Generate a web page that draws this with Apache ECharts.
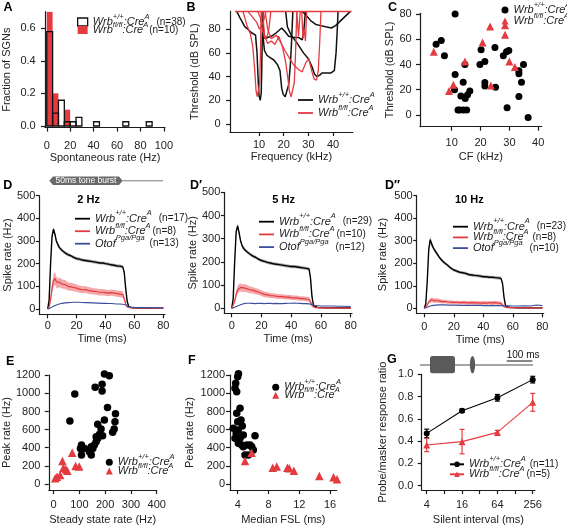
<!DOCTYPE html>
<html><head><meta charset="utf-8">
<script src="https://cdn.jsdelivr.net/npm/echarts@6/dist/echarts.min.js"></script>
<style>html,body{margin:0;padding:0;background:#fff}#c{width:567px;height:527px}</style>
</head><body><div id="c"></div>
<script>
// ---------------- DATA ----------------
// A: histogram of spontaneous rate (bin width 5 Hz)
const aBinW = 5;
const aWtBins = [0,5,10,15,20,25,40,65,85];
const aWtFrac = [0.579,0.079,0.158,0.026,0.026,0.053,0.026,0.026,0.026];
const aKoBins = [0,5,15];
const aKoFrac = [0.7,0.2,0.1];

// B: tuning curves [frequency kHz, threshold dB SPL]
const bWt1 = [[1,95],[2.2,90],[4.3,82],[5.5,80],[7,77],[8.6,75],[9.2,60],[9.6,40],[10,24],[10.5,20],[10.9,26],[11.1,45],[11.3,70],[11.6,95]];
const bWt2 = [[11.4,95],[11.8,80],[12.4,72],[13.5,73],[15,74],[17,77],[19.2,81],[20.5,78],[22,74],[24,73],[26,73],[27.5,71],[28.2,80],[28.8,95]];
const bWt3 = [[11.2,95],[11.6,75],[12.2,62],[13.2,58],[14.5,56],[16,54],[17.5,50],[18.5,45],[19.2,30],[19.8,25],[20.6,23],[21.3,24],[22,33],[22.7,50],[23.2,70],[23.7,95]];
const bWt4 = [[20.8,95],[21.5,82],[23,75],[25.5,68],[28,60],[30,55],[31.5,48],[32.5,42],[33.5,40],[34.5,41],[35.5,43],[37,43],[39,43],[40.5,45],[41.2,60],[41.7,80],[42,95]];
const bWt5 = [[27.5,95],[29,92],[31,87],[33,84],[35,83],[37,82],[39.3,81],[41,83],[43,87],[45,91],[47,95]];
const bKo1 = [[3.5,95],[5,84],[6.5,76],[7.5,65],[8.3,45],[8.8,28],[9.3,23],[9.9,24],[10.3,35],[10.6,60],[10.9,95]];
const bKo2 = [[5.5,95],[7.5,90],[9,86],[10.2,80],[11,83],[12,88],[12.8,95]];
const bKo3 = [[9.5,95],[10.5,90],[11.5,78],[12.5,72],[13.3,74],[14,80],[14.8,95]];
const bKo4 = [[11.5,95],[12.2,75],[13.5,68],[15,70],[16.5,67],[18,74],[19.5,65],[20.8,52],[21.6,40],[22.3,28],[23,23],[23.8,24],[24.3,35],[24.8,60],[25.3,95]];
const bKo5 = [[12.5,95],[13.5,80],[15,72],[17,75],[18.5,70],[20.5,62],[22.5,55],[24,50],[26,46],[27.5,44],[29,52],[30.2,55],[31.3,45],[32.3,38],[33.3,37],[34,45],[34.6,70],[35.1,95]];
const bKo6 = [[25.3,95],[26,74],[26.7,95]];
const bKo7 = [[27.3,95],[27.8,72],[28.3,80],[28.8,70],[29.3,95]];
const bKoTop = [[0.3,95],[47.5,95]];

// C: threshold vs CF
const cWtCF  = [11.2,4.6,6.4,7.5,11.2,11,14,14.6,12.2,12.8,14,15.2,13.2,14.7,15.5,16.3,19.8,20.2,21.5,21.5,21.5,25,25.2,27.9,29,29.8,29.2,33.3,33.3,34.2,34.9,33.3,36.5];
const cWtThr = [80,56,59,47,32,20,26,40,4,4,4,4,15,13,16,19,40,51.7,42.4,25.7,23,53.5,22,47,50,51,5.8,32.6,35,26,40,14.6,-2];
const cKoCF  = [3.8,9.1,10.6,14.6,20.7,23.3,28.5,28.5,30,31.9,23.6];
const cKoThr = [50,19,24,42.4,57.5,70,71,63.6,42.4,38,23.3];

// D: PSTHs, shared time base (ms)
const T = [0,1,2,3,4,5,6,7,8,10,12,14,16,18,20,22,24,26,28,30,32,34,36,38,40,42,44,46,48,50,52,53,54,55,56,58,60,64,68,72,76,80];
// 2 Hz
const d2Wt    = [0,40,200,320,352,330,300,285,272, 258,248,240,235,228,222,220,216,214,212,210,208,206,203,203,200,198,195,193,190,189,186, 160,90,35,12,6,5, 4,4,3,3,3];
const d2WtSem = [0,3,8,12,12,10,9,8,8, 7,7,7,7,7,7,7,7,7,7,7,7,7,7,7,7,7,7,7,7,7,7, 7,6,4,3,2,2, 2,2,2,2,2];
const d2Ko    = [0,10,40,90,125,135,120,112,118, 110,108,100,98,95,92,88,85,86,82,80,78,76,74,74,72,70,72,70,68,66,64, 45,22,10,6,5,5, 4,4,3,3,3];
const d2KoSem = [0,5,12,22,28,28,25,22,22, 20,20,18,18,17,16,16,15,15,15,15,14,14,14,14,14,14,14,14,14,14,14, 10,6,4,3,2,2, 2,2,2,2,2];
const d2Ot    = [0,2,5,8,12,15,18,20,22, 25,27,28,29,30,30,30,29,28,28,27,27,26,26,25,25,24,24,23,22,22,21, 20,18,14,10,8,7, 6,6,5,5,5];
// 5 Hz
const d5Wt    = [0,40,200,330,355,325,290,270,258, 245,235,226,220,212,206,202,198,195,192,190,188,186,184,182,180,180,178,176,174,172,170, 130,50,12,5,3,3, 2,2,2,2,2];
const d5WtSem = [0,3,8,12,12,10,9,8,8, 7,7,7,7,7,7,7,7,7,7,7,7,7,7,7,7,7,7,7,7,7,7, 7,5,3,2,2,2, 2,2,2,2,2];
const d5Ko    = [0,8,30,60,80,88,90,86,88, 85,80,78,74,70,65,60,58,55,54,52,50,50,48,48,46,45,45,42,42,40,38, 28,12,5,3,3,2, 2,2,1,1,1];
const d5KoSem = [0,4,8,14,17,18,18,17,17, 16,15,14,14,13,12,12,12,11,11,11,10,10,10,10,10,10,10,10,10,10,10, 8,5,3,2,2,2, 2,2,2,2,2];
const d5Ot    = [0,2,4,7,10,12,15,18,20, 22,22,21,20,22,21,20,22,21,20,21,20,20,21,22,22,23,22,21,20,20,19, 18,16,14,12,11,10, 10,10,9,9,8];
// 10 Hz
const d10Wt    = [0,20,120,260,305,285,270,258,248, 228,212,200,190,178,170,165,160,158,155,150,148,146,145,143,140,140,138,138,136,135,133, 110,50,12,4,3,3, 2,2,2,2,2];
const d10WtSem = [0,3,8,14,15,12,10,9,8, 7,7,7,7,7,7,7,7,7,7,7,7,7,7,7,7,7,7,7,7,7,7, 7,5,3,2,2,2, 2,2,2,2,2];
const d10Ko    = [0,5,15,28,35,38,35,34,36, 33,30,30,28,27,26,26,25,26,25,24,25,24,24,23,24,23,24,24,25,23,22, 15,8,4,3,3,3, 2,2,2,2,2];
const d10KoSem = [0,2,5,8,10,10,10,10,10, 9,9,8,8,8,8,8,8,8,8,8,8,8,8,8,8,8,8,8,8,8,8, 6,4,2,2,2,2, 2,2,2,2,2];
const d10Ot    = [0,2,5,8,10,12,13,14,14, 15,15,15,14,14,14,14,13,13,13,13,13,13,13,13,12,12,12,13,12,12,12, 11,10,10,10,11,10, 10,11,10,15,12];

// E: peak rate vs steady-state rate
const eWtSS   = [82,63,197,216,161,188,188,209,240,238,235,229,197,171,184,178,190,171,165,158,152,139,146,108,104,120,108,165,146];
const eWtPeak = [992,695,1213,1194,1066,1099,1025,844,775,687,606,570,705,658,606,548,533,503,467,430,393,356,320,430,393,393,320,521,411];
const eKoSS   = [72,34,85,99,47,38,25,6,13,53];
const eKoPeak = [346,254,199,192,162,180,99,63,81,147];

// F: peak rate vs median first-spike latency
const fWtFSL  = [4.0,3.74,3.65,3.87,4.3,3.87,4.0,4.43,3.43,4.08,3.65,4.3,4.08,4.52,4.73,5.17,6.25,5.6,6.03,4.95,5.38,5.82,4.73,4.1,3.8,4.6];
const fWtPeak = [1183,1110,1055,1018,835,780,687,706,614,595,504,504,449,430,411,430,533,430,375,320,320,411,540,1216,560,640];
const fKoFSL  = [4.95,5.8,8.55,9.07,10.45,10.7,11.3,14.6,16.45,16.9];
const fKoPeak = [254,346,180,192,180,173,147,88,74,52];

// G: forward masking recovery
const gInterval = [4,16,64,256];
const gWtMean = [0.47,0.674,0.79,0.953];
const gWtErr  = [0.038,0.015,0.03,0.03];
const gKoMean = [0.366,0.396,0.479,0.749];
const gKoErr  = [0.06,0.11,0.018,0.08];

// tick values
const aXTicks = [0,20,40,60,80,100], aYTicks = [0,0.2,0.4,0.6];
const bXTicks = [10,20,30,40], bYTicks = [0,20,40,60,80];
const cXTicks = [10,20,30,40], cYTicks = [0,20,40,60,80];
const dXTicks = [0,20,40,60,80], dYTicks = [0,100,200,300,400,500];
const eXTicks = [0,100,200,300,400], efYTicks = [0,200,400,600,800,1000,1200];
const fXTicks = [4,8,12,16];
const gXTicks = [4,8,16,32,64,128,256], gXLabels = [4,16,64,256], gYTicks = [0,0.2,0.4,0.6,0.8,1.0];

// ---------------- STYLE ----------------
const FONT = 'Liberation Sans, Arial, Helvetica, sans-serif';
const RED = '#e33b40';
const RED_BAND = 'rgba(236,96,100,0.55)';
const GRAY_BAND = 'rgba(120,120,120,0.6)';
const BLUE = '#3a4f9e';
const INK = '#1c1c1c';

const RICH = {
  i: {fontFamily: FONT, fontStyle: 'italic', fontSize: 11, color: INK, lineHeight: 19, verticalAlign: 'middle'},
  s: {fontFamily: FONT, fontStyle: 'italic', fontSize: 7.5, color: INK, verticalAlign: 'top'}
};
[1,2,4,5,7].forEach(p => { RICH['n' + p] = {fontFamily: FONT, fontSize: 10, color: INK, lineHeight: 19, verticalAlign: 'middle', padding: [0,0,0,p]}; });

function wrb(sup, n, pad) {
  let s = '{i|Wrb}{s|' + sup + '}{i|:Cre}{s|A}';
  if (n) s += '{n' + pad + '|' + n + '}';
  return s;
}
function otof(n, pad) { return '{i|Otof}{s|Pga/Pga}{n' + pad + '|' + n + '}'; }

const LABELS = {
  A_wt: wrb('+/+','(n=38)',7), A_ko: wrb('fl/fl','(n=10)',1),
  B_wt: wrb('+/+'), B_ko: wrb('fl/fl'),
  C_wt: wrb('+/+'), C_ko: wrb('fl/fl'),
  D1_wt: wrb('+/+','(n=17)',7), D1_ko: wrb('fl/fl','(n=8)',2), D1_ot: otof('(n=13)',5),
  D2_wt: wrb('+/+','(n=29)',7), D2_ko: wrb('fl/fl','(n=10)',2), D2_ot: otof('(n=12)',7),
  D3_wt: wrb('+/+','(n=23)',7), D3_ko: wrb('fl/fl','(n=8)',4), D3_ot: otof('(n=10)',7),
  E_wt: wrb('+/+'), E_ko: wrb('fl/fl'),
  F_wt: wrb('+/+'), F_ko: wrb('fl/fl'),
  G_wt: wrb('+/+','(n=11)',4), G_ko: wrb('fl/fl','(n=5)',2)
};

function legend(left, top, gap, iw, ih, data) {
  return {orient: 'vertical', left, top, padding: 0, itemGap: gap, itemWidth: iw, itemHeight: ih,
    selectedMode: false, data, formatter: nm => LABELS[nm],
    textStyle: {fontFamily: FONT, fontSize: 11, color: INK, rich: RICH}};
}
const lineIcon = names => names.map(n => ({name: n, icon: 'rect'}));

function axis(o) {
  const a = {
    type: o.type || 'value', gridIndex: o.g, min: o.min, max: o.max,
    name: o.name, nameLocation: 'middle', nameGap: o.nameGap,
    nameTextStyle: {fontSize: 11, color: '#222', fontFamily: FONT},
    axisLine: {show: true, onZero: false, lineStyle: {color: INK, width: 1.2}},
    axisTick: {show: true, length: o.tickLen || 4, customValues: o.ticks, lineStyle: {color: INK, width: 1.2}},
    axisLabel: {customValues: o.labels || o.ticks, margin: o.margin, fontSize: 11, color: '#222', fontFamily: FONT,
      formatter: o.fmt || (v => String(v))},
    splitLine: {show: false}
  };
  if (o.logBase) a.logBase = o.logBase;
  return a;
}
const f1 = v => Number(v).toFixed(1);

// ---------------- SERIES HELPERS ----------------
function histSeries(name, g, bins, vals, fill, stroke) {
  return {type: 'custom', name, xAxisIndex: g, yAxisIndex: g, clip: false,
    data: bins.map((b, k) => [b, vals[k]]),
    itemStyle: {color: stroke || fill},
    renderItem: (params, api) => {
      const x0 = api.value(0), h = api.value(1);
      const p0 = api.coord([x0, 0]), p1 = api.coord([x0 + aBinW, h]);
      return {type: 'rect', shape: {x: p0[0], y: p1[1], width: p1[0] - p0[0], height: p0[1] - p1[1]},
        style: {fill: fill || 'none', stroke: stroke || null, lineWidth: stroke ? 1.3 : 0}};
    }};
}
function lineS(name, g, data, color, width, z) {
  return {type: 'line', name, xAxisIndex: g, yAxisIndex: g, data, symbol: 'none', showSymbol: false,
    lineStyle: {color, width}, itemStyle: {color}, z: z || 2, clip: false};
}
function traceS(name, g, ys, color, width, z) {
  return lineS(name, g, T.map((t, k) => [t, ys[k]]), color, width, z);
}
function bandS(g, mean, sem, fill) {
  return {type: 'custom', xAxisIndex: g, yAxisIndex: g, silent: true, z: 1, data: [[T[0], mean[0]]],
    renderItem: (params, api) => {
      const up = T.map((t, k) => api.coord([t, mean[k] + sem[k]]));
      const lo = T.map((t, k) => api.coord([t, mean[k] - sem[k]])).reverse();
      return {type: 'polygon', shape: {points: up.concat(lo)}, style: {fill}};
    }};
}
function scatterS(name, g, xs, ys, symbol, size, color) {
  return {type: 'scatter', name, xAxisIndex: g, yAxisIndex: g, symbol, symbolSize: size, clip: false,
    data: xs.map((x, k) => [x, ys[k]]), itemStyle: {color, opacity: 1}};
}
function errS(g, xs, m, e, color) {
  return {type: 'custom', xAxisIndex: g, yAxisIndex: g, silent: true, z: 3,
    data: xs.map((x, k) => [x, m[k], e[k]]),
    renderItem: (params, api) => {
      const x = api.value(0), mm = api.value(1), ee = api.value(2);
      const a = api.coord([x, mm + ee]), b = api.coord([x, mm - ee]);
      const st = {stroke: color, lineWidth: 1.2};
      return {type: 'group', children: [
        {type: 'line', shape: {x1: a[0], y1: a[1], x2: b[0], y2: b[1]}, style: st},
        {type: 'line', shape: {x1: a[0] - 2.5, y1: a[1], x2: a[0] + 2.5, y2: a[1]}, style: st},
        {type: 'line', shape: {x1: b[0] - 2.5, y1: b[1], x2: b[0] + 2.5, y2: b[1]}, style: st}
      ]};
    }};
}

// ---------------- LAYOUT ----------------
const grids = [
  {left: 45,    top: 11.7,  width: 120,   height: 115.9}, // A
  {left: 230,   top: 11.4,  width: 123,   height: 120.6}, // B
  {left: 420,   top: 13.3,  width: 121.7, height: 113.4}, // C
  {left: 39.3,  top: 195.7, width: 125.7, height: 118.6}, // D
  {left: 224.3, top: 192.3, width: 127.7, height: 121},   // D'
  {left: 416.7, top: 195.7, width: 127,   height: 117.6}, // D''
  {left: 46.7,  top: 375.2, width: 110,   height: 114.8}, // E
  {left: 230,   top: 375.2, width: 106.7, height: 114.8}, // F
  {left: 421.7, top: 374.4, width: 113.3, height: 115.6}  // G
];

const xAxes = [
  axis({g:0, min:-1.5, max:101, ticks:aXTicks, margin:12.6, name:'Spontaneous rate (Hz)', nameGap:22.9}),
  axis({g:1, min:-1.74, max:48.06, ticks:bXTicks, margin:7.5, name:'Frequency (kHz)', nameGap:19.2}),
  axis({g:2, min:-0.97, max:41.2, ticks:cXTicks, margin:11, name:'CF (kHz)', nameGap:24.5}),
  axis({g:3, min:-5.81, max:81.2, ticks:dXTicks, margin:6, name:'Time (ms)', nameGap:19.5}),
  axis({g:4, min:-4.97, max:80.9, ticks:dXTicks, margin:7, name:'Time (ms)', nameGap:20.5}),
  axis({g:5, min:-5.15, max:80.9, ticks:dXTicks, margin:8, name:'Time (ms)', nameGap:21}),
  axis({g:6, min:-19, max:400, ticks:eXTicks, margin:9.5, name:'Steady state rate (Hz)', nameGap:24.5}),
  axis({g:7, min:3.0, max:16.86, ticks:fXTicks, margin:9.5, name:'Median FSL (ms)', nameGap:24.5}),
  axis({g:8, type:'log', logBase:2, min:3.285, max:280, ticks:gXTicks, labels:gXLabels, margin:9.5, name:'Silent interval (ms)', nameGap:24.5})
];
const yAxes = [
  axis({g:0, min:-0.0098, max:0.701, ticks:aYTicks, margin:9.3, fmt:f1, name:'Fraction of SGNs', nameGap:32.8}),
  axis({g:1, min:-6.75, max:95, ticks:bYTicks, margin:9.3, name:'Threshold (dB SPL)', nameGap:29.5}),
  axis({g:2, min:-9.27, max:80.55, ticks:cYTicks, margin:8.3, name:'Threshold (dB SPL)', nameGap:24.5}),
  axis({g:3, min:-23.4, max:500, ticks:dYTicks, margin:4, tickLen:3.5, name:'Spike rate (Hz)', nameGap:24.5}),
  axis({g:4, min:-21.6, max:500, ticks:dYTicks, margin:4, tickLen:3.5, name:'Spike rate (Hz)', nameGap:24.5}),
  axis({g:5, min:-22.2, max:500, ticks:dYTicks, margin:4, tickLen:3.5, name:'Spike rate (Hz)', nameGap:27.9}),
  axis({g:6, min:-66, max:1200, ticks:efYTicks, margin:8.4, name:'Peak rate (Hz)', nameGap:35.2}),
  axis({g:7, min:-66, max:1200, ticks:efYTicks, margin:5, name:'Peak rate (Hz)', nameGap:34.5}),
  axis({g:8, min:-0.0386, max:1.0, ticks:gYTicks, margin:8.4, fmt:f1, name:'Probe/masker response ratio', nameGap:33.2})
];

const series = [
  // A
  histSeries('A_ko', 0, aKoBins, aKoFrac, RED, null),
  histSeries('A_wt', 0, aWtBins, aWtFrac, null, '#111'),
  // B
  lineS('B_wt', 1, bWt1, '#111', 1.5), lineS('B_wt', 1, bWt2, '#111', 1.5), lineS('B_wt', 1, bWt3, '#111', 1.5),
  lineS('B_wt', 1, bWt4, '#111', 1.5), lineS('B_wt', 1, bWt5, '#111', 1.5),
  lineS('B_ko', 1, bKo1, RED, 1.3, 3), lineS('B_ko', 1, bKo2, RED, 1.3, 3), lineS('B_ko', 1, bKo3, RED, 1.3, 3),
  lineS('B_ko', 1, bKo4, RED, 1.3, 3), lineS('B_ko', 1, bKo5, RED, 1.3, 3), lineS('B_ko', 1, bKo6, RED, 1.3, 3),
  lineS('B_ko', 1, bKo7, RED, 1.3, 3), lineS('B_ko', 1, bKoTop, RED, 1.5, 4),
  // C
  scatterS('C_wt', 2, cWtCF, cWtThr, 'circle', 7, '#000'),
  scatterS('C_ko', 2, cKoCF, cKoThr, 'triangle', 8, RED),
  // D 2 Hz
  bandS(3, d2Wt, d2WtSem, GRAY_BAND), bandS(3, d2Ko, d2KoSem, RED_BAND),
  traceS('D1_wt', 3, d2Wt, '#000', 1.4), traceS('D1_ko', 3, d2Ko, RED, 1.2), traceS('D1_ot', 3, d2Ot, BLUE, 1.1, 3),
  // D' 5 Hz
  bandS(4, d5Wt, d5WtSem, GRAY_BAND), bandS(4, d5Ko, d5KoSem, RED_BAND),
  traceS('D2_wt', 4, d5Wt, '#000', 1.4), traceS('D2_ko', 4, d5Ko, RED, 1.2), traceS('D2_ot', 4, d5Ot, BLUE, 1.1, 3),
  // D'' 10 Hz
  bandS(5, d10Wt, d10WtSem, GRAY_BAND), bandS(5, d10Ko, d10KoSem, RED_BAND),
  traceS('D3_wt', 5, d10Wt, '#000', 1.4), traceS('D3_ko', 5, d10Ko, RED, 1.2), traceS('D3_ot', 5, d10Ot, BLUE, 1.1, 3),
  // E
  scatterS('E_wt', 6, eWtSS, eWtPeak, 'circle', 7.5, '#000'),
  scatterS('E_ko', 6, eKoSS, eKoPeak, 'triangle', 8.5, RED),
  // F
  scatterS('F_wt', 7, fWtFSL, fWtPeak, 'circle', 7.5, '#000'),
  scatterS('F_ko', 7, fKoFSL, fKoPeak, 'triangle', 8.5, RED),
  // G
  {type:'line', name:'G_wt', xAxisIndex:8, yAxisIndex:8, data: gInterval.map((x,k)=>[x,gWtMean[k]]),
   symbol:'circle', symbolSize:6, lineStyle:{color:'#000', width:1.1}, itemStyle:{color:'#000'}, z:4},
  {type:'line', name:'G_ko', xAxisIndex:8, yAxisIndex:8, data: gInterval.map((x,k)=>[x,gKoMean[k]]),
   symbol:'triangle', symbolSize:7, lineStyle:{color:RED, width:1.1}, itemStyle:{color:RED}, z:4},
  errS(8, gInterval, gWtMean, gWtErr, '#000'),
  errS(8, gInterval, gKoMean, gKoErr, RED)
];

const legends = [
  legend(77, 12.5, -7, 10, 8, [
    {name:'A_wt', icon:'rect', itemStyle:{color:'#fff', borderColor:'#111', borderWidth:1.3}},
    {name:'A_ko', icon:'rect', itemStyle:{color:RED}}]),
  legend(298, 90.5, -2, 15, 1.8, lineIcon(['B_wt','B_ko'])),
  legend(501.5, 0.5, -4, 7, 7, ['C_wt','C_ko']),
  legend(75, 209.2, -2.5, 15, 1.8, lineIcon(['D1_wt','D1_ko','D1_ot'])),
  legend(259, 212.2, -2.3, 15, 1.8, lineIcon(['D2_wt','D2_ko','D2_ot'])),
  legend(453, 217.2, -4.3, 15, 1.8, lineIcon(['D3_wt','D3_ko','D3_ot'])),
  legend(105.8, 452.8, -6.3, 7, 7, ['E_wt','E_ko']),
  legend(272.2, 377.8, -7, 7, 7, ['F_wt','F_ko']),
  legend(449, 454.8, -5, 14, 7, ['G_wt','G_ko'])
];

function txt(x, y, text, size, weight, color, align) {
  return {type:'text', x, y, silent:true, style:{text, fontSize:size, fontWeight:weight||'normal', fontFamily:FONT,
    fill:color||'#000', align:align||'left', verticalAlign:'middle'}};
}
const graphics = [
  txt(3.5, 8, 'A', 12.5, 'bold'), txt(186.5, 7.5, 'B', 12.5, 'bold'), txt(388, 8, 'C', 12.5, 'bold'),
  txt(3.3, 185.5, 'D', 12.5, 'bold'), txt(190, 186, 'D\u2032', 12.5, 'bold'), txt(385, 186, 'D\u2033', 12.5, 'bold'),
  txt(6, 362, 'E', 12.5, 'bold'), txt(188, 361, 'F', 12.5, 'bold'), txt(387, 360, 'G', 12.5, 'bold'),
  txt(77.3, 200.3, '2 Hz', 11, 'bold'), txt(272.3, 200, '5 Hz', 11, 'bold'), txt(455, 200, '10 Hz', 11, 'bold'),
  // tone burst marker
  {type:'line', silent:true, shape:{x1:122.7, y1:180.8, x2:163, y2:180.8}, style:{stroke:'#777', lineWidth:1}},
  {type:'polygon', silent:true, shape:{points:[[49.3,180.8],[53,176.5],[119,176.5],[122.7,180.8],[119,185.1],[53,185.1]]}, style:{fill:'#6a6a6a'}},
  txt(86, 181, '50ms tone burst', 8.5, 'normal', '#fff', 'center'),
  // forward masking stimulus
  {type:'line', silent:true, shape:{x1:420, y1:365, x2:533, y2:365}, style:{stroke:'#888', lineWidth:1.5}},
  {type:'rect', silent:true, shape:{x:430, y:356, width:25, height:17.3, r:2.5}, style:{fill:'#5a5a5a'}},
  {type:'ellipse', silent:true, shape:{cx:472.5, cy:364.7, rx:2.6, ry:8.6}, style:{fill:'#5a5a5a'}},
  txt(506.7, 355.7, '100 ms', 10, 'normal', '#111'),
  {type:'line', silent:true, shape:{x1:506.7, y1:361, x2:532.3, y2:361}, style:{stroke:'#111', lineWidth:1}}
];

const chart = echarts.init(document.getElementById('c'), null, {renderer:'canvas', width:567, height:527});
chart.setOption({
  animation: false,
  backgroundColor: '#fff',
  textStyle: {fontFamily: FONT},
  grid: grids,
  xAxis: xAxes,
  yAxis: yAxes,
  legend: legends,
  series,
  graphic: graphics
});
</script></body></html>
